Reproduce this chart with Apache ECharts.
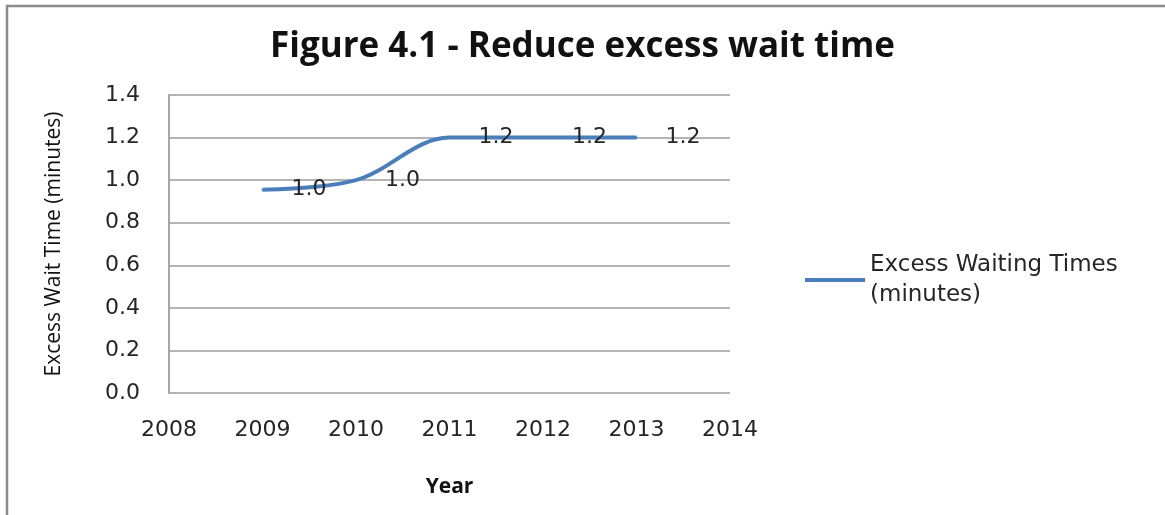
<!DOCTYPE html>
<html>
<head>
<meta charset="utf-8">
<script src="https://cdn.jsdelivr.net/npm/echarts@6/dist/echarts.min.js"></script>
<style>
  html, body { margin: 0; padding: 0; background: #fff; }
  #chart { width: 1165px; height: 515px; }
</style>
</head>
<body>
<div id="chart"></div>
<script>
// Excess waiting time per year
const years = [2009, 2010, 2011, 2012, 2013];
const waitMinutes = [0.955, 1.0, 1.2, 1.2, 1.2];
const seriesName = 'Excess Waiting Times (minutes)';
const titleText = 'Figure 4.1 - Reduce excess wait time';
const xName = 'Year';
const yName = 'Excess Wait Time (minutes)';

const tickFont = 'DejaVu Sans';
const textColor = '#262626';
const lineColor = '#4a7ebb';

const chart = echarts.init(document.getElementById('chart'));
chart.setOption({
  backgroundColor: '#fff',
  animation: false,
  graphic: [{
    type: 'polyline',
    shape: { points: [[7, 515], [7, 6], [1165, 6]] },
    style: { stroke: '#8c8c8c', lineWidth: 2.5, fill: null }
  }],
  title: {
    text: titleText,
    left: 'center',
    top: 25,
    textStyle: { fontFamily: 'Open Sans', fontWeight: 'bold', fontSize: 35, color: '#111' }
  },
  grid: { left: 169, right: 435, top: 95, bottom: 122 },
  legend: {
    left: 800,
    top: 214,
    itemWidth: 60,
    itemHeight: 14,
    itemGap: 5,
    icon: 'path://M0,6 L60,6 L60,10 L0,10 Z',
    itemStyle: { color: lineColor, opacity: 1 },
    formatter: () => 'Excess Waiting Times\n(minutes)',
    textStyle: {
      fontFamily: tickFont, fontSize: 23, color: textColor,
      lineHeight: 30, padding: [62, 0, 0, 0]
    },
    data: [seriesName]
  },
  xAxis: {
    type: 'value',
    min: 2008,
    max: 2014,
    interval: 1,
    name: xName,
    nameLocation: 'middle',
    nameGap: 84,
    nameTextStyle: { fontFamily: 'Open Sans', fontWeight: 'bold', fontSize: 21, color: '#111' },
    axisLine: { show: false },
    axisTick: { show: false },
    splitLine: { show: false },
    axisLabel: {
      margin: 26, fontFamily: tickFont, fontSize: 22, color: textColor,
      formatter: v => String(v)
    }
  },
  yAxis: {
    type: 'value',
    min: 0,
    max: 1.4,
    interval: 0.2,
    name: yName,
    nameLocation: 'middle',
    nameGap: 104,
    nameTextStyle: { fontFamily: 'Open Sans', fontSize: 21, color: '#111' },
    axisLine: { show: true, lineStyle: { color: '#a6a6a6', width: 2 } },
    axisTick: { show: false },
    splitLine: { lineStyle: { color: '#b4b4b4', width: 2 } },
    axisLabel: {
      margin: 29, fontFamily: tickFont, fontSize: 22, color: textColor,
      formatter: v => v.toFixed(1)
    }
  },
  series: [{
    name: seriesName,
    type: 'line',
    data: years.map((y, i) => [y, waitMinutes[i]]),
    smooth: 0.35,
    symbol: 'circle',
    symbolSize: 2,
    showSymbol: true,
    showAllSymbol: true,
    lineStyle: { color: lineColor, width: 4 },
    itemStyle: { color: lineColor },
    label: {
      show: true,
      position: 'right',
      distance: 28,
      fontFamily: tickFont,
      fontSize: 22,
      color: textColor,
      formatter: p => p.value[1].toFixed(1)
    },
    labelLayout: { hideOverlap: false }
  }]
});
</script>
</body>
</html>
